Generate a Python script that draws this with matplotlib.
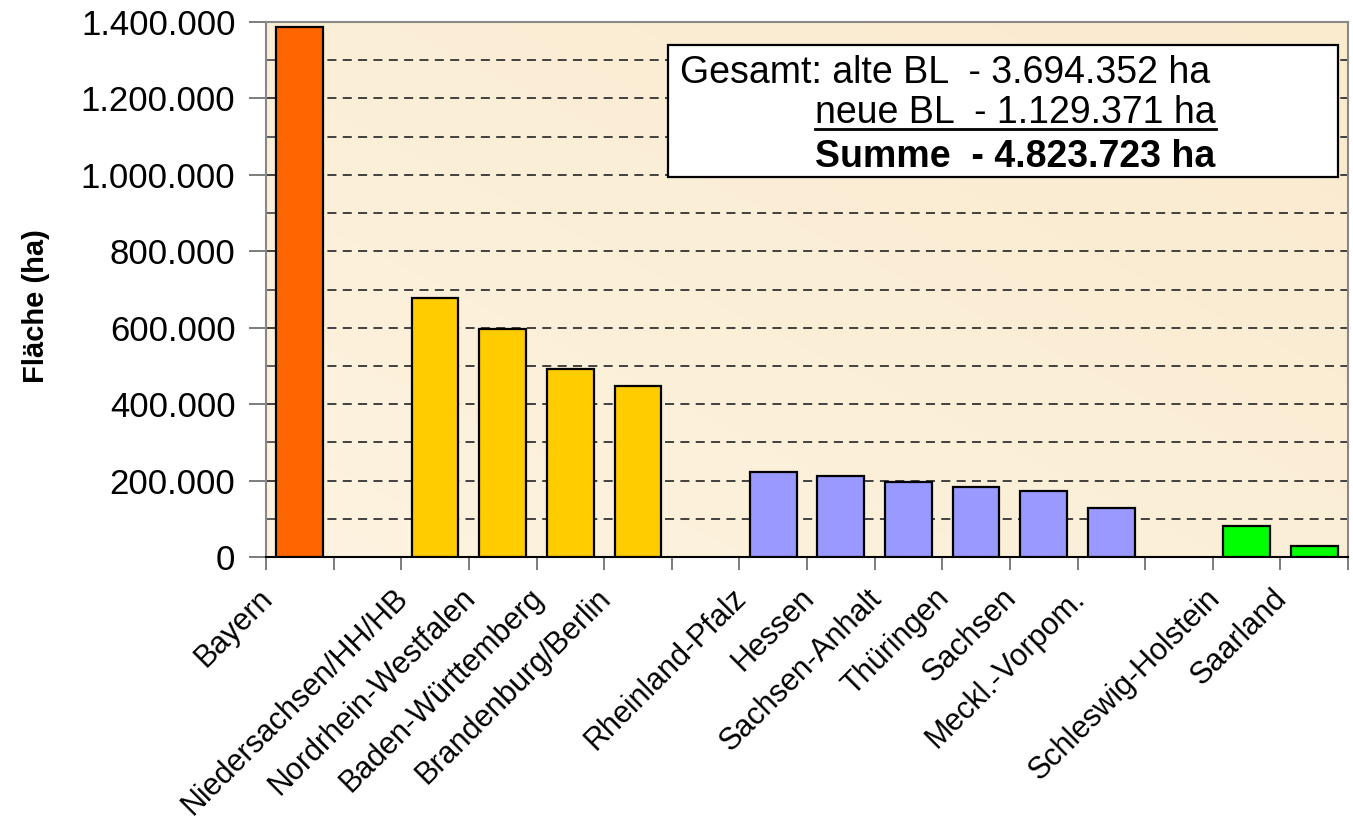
import numpy as np
import matplotlib
matplotlib.use('Agg')
import matplotlib.pyplot as plt
import matplotlib.transforms as mtrans
from matplotlib.patches import Rectangle
from matplotlib.ticker import FuncFormatter, MultipleLocator

plt.rcParams['font.family'] = ['Liberation Sans', 'DejaVu Sans']

# Daten (ha), leere Plätze als Trenner zwischen den Gruppen
laender = ['Bayern', 'Niedersachsen/HH/HB', 'Nordrhein-Westfalen', 'Baden-Württemberg',
           'Brandenburg/Berlin', 'Rheinland-Pfalz', 'Hessen', 'Sachsen-Anhalt', 'Thüringen',
           'Sachsen', 'Meckl.-Vorpom.', 'Schleswig-Holstein', 'Saarland']
flaeche = [1386000, 677000, 597000, 493000,
           448000, 223000, 213000, 195000, 184000,
           174000, 128000, 80000, 29000]
gruppe = [0, 1, 1, 1, 1, 2, 2, 2, 2, 2, 2, 3, 3]
slot = [0, 2, 3, 4, 5, 7, 8, 9, 10, 11, 12, 14, 15]
farben = ['#FF6600', '#FFCC00', '#9999FF', '#00FF00']

box_zeilen = ['Gesamt: alte BL  - 3.694.352 ha', 'neue BL  - 1.129.371 ha', 'Summe  - 4.823.723 ha']

W, H = 1353, 824
fig = plt.figure(figsize=(W / 100, H / 100), dpi=100)
ax = fig.add_axes([266 / W, 1 - 557 / H, (1348 - 266) / W, (557 - 22) / H])

# Hintergrund mit leichtem Verlauf
gx, gy = np.meshgrid(np.linspace(0, 1, 200), np.linspace(0, 1, 200))
t = 0.5 * gx + 0.5 * (1 - gy)
c0 = np.array([253, 243, 224]) / 255
c1 = np.array([250, 234, 206]) / 255
img = c0[None, None, :] * (1 - t[..., None]) + c1[None, None, :] * t[..., None]
ax.imshow(img, extent=[0, 1, 0, 1], transform=ax.transAxes, aspect='auto', zorder=0)

ax.bar(slot, flaeche, width=0.69, color=[farben[g] for g in gruppe],
       edgecolor='black', linewidth=1.6, zorder=3)

ax.set_xlim(-0.5, 15.5)
ax.set_ylim(0, 1400000)

ax.yaxis.set_major_locator(MultipleLocator(200000))
ax.yaxis.set_minor_locator(MultipleLocator(100000))
ax.yaxis.set_major_formatter(FuncFormatter(lambda v, p: f'{int(v):,}'.replace(',', '.')))
ax.grid(axis='y', which='both', color='#333333', linestyle=(0, (5, 3.5)), linewidth=1.3, zorder=1)
ax.set_axisbelow(True)

ax.tick_params(axis='y', which='major', direction='out', length=12, width=1.2, color='#666666',
               labelsize=25, pad=10)
ax.tick_params(axis='y', which='minor', direction='in', length=7, width=1.2, color='#666666')

# x-Achse: Striche zwischen den Plätzen, Beschriftung schräg
ax.set_xticks(np.arange(-0.5, 16, 1), minor=True)
ax.set_xticks([])
ax.tick_params(axis='x', which='minor', direction='out', length=9, width=1.2, color='#666666')
trans = mtrans.blended_transform_factory(ax.transData, ax.transAxes) + \
    mtrans.ScaledTranslation(-0.42, -0.26, fig.dpi_scale_trans)
for x, name in zip(slot, laender):
    ax.text(x, 0, name, transform=trans, rotation=45, ha='right', va='top',
            rotation_mode='anchor', fontsize=22)

for s in ['top', 'right', 'left']:
    ax.spines[s].set_color('#888888')
    ax.spines[s].set_linewidth(1.5)
ax.spines['bottom'].set_color('black')
ax.spines['bottom'].set_linewidth(1.5)

def px(x, y):
    return x / W, 1 - y / H

fig.text(*px(36, 306), 'Fläche (ha)', rotation=90, fontsize=21, fontweight='bold',
         ha='center', va='center')

# Textkasten mit Summen
bx0, by0 = px(668, 177)
bx1, by1 = px(1338, 45)
fig.patches.append(Rectangle((bx0, by0), bx1 - bx0, by1 - by0, transform=fig.transFigure,
                             facecolor='white', edgecolor='black', linewidth=1.6, zorder=5))
t1 = fig.text(*px(680, 73), box_zeilen[0], fontsize=27, va='center', ha='left', zorder=6)
t2 = fig.text(*px(815, 113), box_zeilen[1], fontsize=27, va='center', ha='left', zorder=6)
t3 = fig.text(*px(815, 157), box_zeilen[2], fontsize=27, va='center', ha='left',
              fontweight='bold', zorder=6)

fig.canvas.draw()
bb = t2.get_window_extent()
uy = 1 - 129 / H
fig.add_artist(plt.Line2D([bb.x0 / W, bb.x1 / W], [uy, uy], transform=fig.transFigure,
                          color='black', linewidth=2, zorder=6))

fig.savefig('out.png', dpi=100)
